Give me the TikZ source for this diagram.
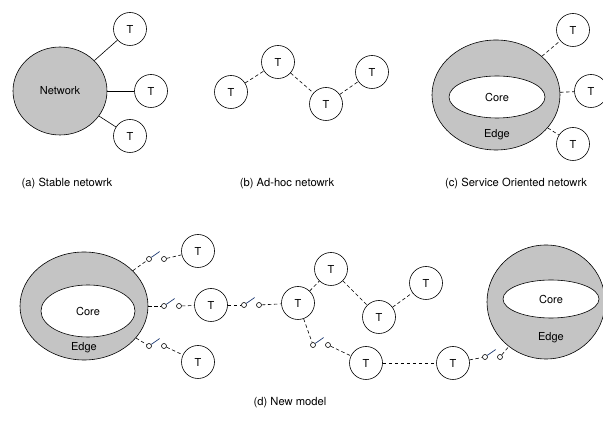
\documentclass[tikz,border=0pt]{standalone}
\usepackage{fontspec}
\setmainfont{TeX Gyre Heros}
\definecolor{EdgeGray}{HTML}{C4C4C4}
\definecolor{BladeBlue}{HTML}{1F3B73}
\usepackage{tikz}
\usetikzlibrary{shapes.geometric}

\begin{document}
\begin{tikzpicture}[x=1pt, y=-1pt,
  every node/.style={font=\fontsize{11}{13}\selectfont},
  term/.style={circle, draw, line width=0.6pt, minimum size=33pt,
               inner sep=0pt, fill=white},
  edgering/.style={ellipse, draw, line width=0.6pt, fill=EdgeGray,
                   inner sep=0pt},
  corering/.style={ellipse, draw, line width=0.6pt, fill=white,
                   inner sep=0pt},
  contact/.style={circle, draw, line width=0.6pt, minimum size=5pt,
                  inner sep=0pt},
  blade/.style={draw=BladeBlue, line width=0.7pt},
  wire/.style={line width=0.6pt},
  hop/.style={line width=0.6pt, dash pattern=on 3.5pt off 2.5pt},
  caption/.style={font=\fontsize{11.2}{13}\selectfont},
]
\useasboundingbox (0,0) rectangle (603,427);

% (a) stable network
\node[edgering, minimum width=94pt, minimum height=88pt] (netA) at (60,91) {Network};
\node[term] (ta1) at (130,29) {T};
\node[term] (ta2) at (151,91) {T};
\node[term] (ta3) at (130,136) {T};
\foreach \t in {ta1,ta2,ta3}
  \draw[wire] (netA) -- (\t);
\node[caption] (capA) at (67,184) {(a) Stable netowrk};

% (b) ad-hoc network
\node[term] (tb1) at (231,92) {T};
\node[term] (tb2) at (278,62) {T};
\node[term] (tb3) at (326,104) {T};
\node[term] (tb4) at (372,72) {T};
\draw[hop] (tb1) -- (tb2);
\draw[hop] (tb2) -- (tb3);
\draw[hop] (tb3) -- (tb4);
\node[caption] (capB) at (287,184) {(b) Ad-hoc netowrk};

% (c) service oriented network
\node[edgering, minimum width=128pt, minimum height=110pt] (netC) at (496,95) {};
\node[corering, minimum width=96pt, minimum height=42pt] (coreC) at (497,97) {Core};
\node (edgeC) at (497,135) {Edge};
\node[term] (tc1) at (573,30) {T};
\node[term] (tc2) at (591,91) {T};
\node[term] (tc3) at (573,144) {T};
\foreach \t in {tc1,tc2,tc3}
  \draw[hop] (netC) -- (\t);
\node[caption] (capC) at (516,184) {(c) Service Oriented netowrk};

% (d) new model
\node[edgering, minimum width=128pt, minimum height=108pt] (netL) at (84,306) {};
\node[corering, minimum width=94pt, minimum height=52pt] (coreL) at (88,311) {Core};
\node (edgeL) at (84,348) {Edge};
\node[edgering, minimum width=118pt, minimum height=114pt] (netR) at (546,302) {};
\node[corering, minimum width=96pt, minimum height=38pt] (coreR) at (551,299) {Core};
\node (edgeR) at (551,338) {Edge};

\node[term] (td1) at (198,251) {T};
\node[term] (td2) at (211,305) {T};
\node[term] (td3) at (198,362) {T};
\node[term] (td4) at (298,303) {T};
\node[term] (td5) at (331,269) {T};
\node[term] (td6) at (379,317) {T};
\node[term] (td7) at (426,283) {T};
\node[term] (td8) at (366,363) {T};
\node[term] (td9) at (453,363) {T};

% open switches
\foreach \s/\x/\y in {sw1/149/259, sw2/164/306, sw3/149/346,
                      sw4/244/305, sw5/313/345, sw6/485/357} {
  \node[contact] (\s a) at (\x,\y) {};
  \node[contact] (\s b) at (\x+15,\y) {};
  \draw[blade] (\s a) -- ++(-35:13);
}

\draw[hop] (netL) -- (sw1a);  \draw[hop] (sw1b) -- (td1);
\draw[hop] (netL) -- (sw2a);  \draw[hop] (sw2b) -- (td2);
\draw[hop] (netL) -- (sw3a);  \draw[hop] (sw3b) -- (td3);
\draw[hop] (td2) -- (sw4a);   \draw[hop] (sw4b) -- (td4);
\draw[hop] (td4) -- (sw5a);   \draw[hop] (sw5b) -- (td8);
\draw[hop] (td4) -- (td5);
\draw[hop] (td5) -- (td6);
\draw[hop] (td6) -- (td7);
\draw[hop] (td8) -- (td9);
\draw[hop] (td9) -- (sw6a);   \draw[hop] (sw6b) -- (netR);

\node[caption] (capD) at (290,403) {(d) New model};
\end{tikzpicture}
\end{document}
